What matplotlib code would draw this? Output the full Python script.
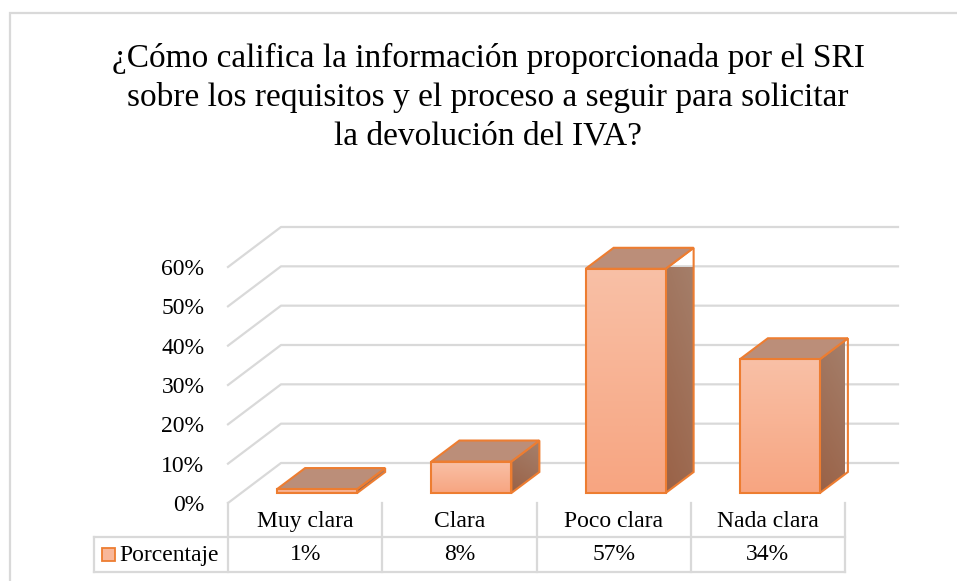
import matplotlib.pyplot as plt
import numpy as np
from matplotlib.patches import Polygon, Rectangle
from matplotlib.transforms import blended_transform_factory
from matplotlib.ticker import PercentFormatter
from matplotlib.colors import LinearSegmentedColormap

# data
categorias = ['Muy clara', 'Clara', 'Poco clara', 'Nada clara']
porcentaje = [0.01, 0.08, 0.57, 0.34]
etiquetas = ['1%', '8%', '57%', '34%']
serie = 'Porcentaje'
yticks = [0, 0.1, 0.2, 0.3, 0.4, 0.5, 0.6]
titulo = ('¿Cómo califica la información proporcionada por el SRI\n'
          'sobre los requisitos y el proceso a seguir para solicitar\n'
          'la devolución del IVA?')

W, H = 957, 581
plt.rcParams['font.family'] = ['Liberation Serif', 'DejaVu Serif']

fig = plt.figure(figsize=(W / 100, H / 100), dpi=100)

# front plane of the plot in pixels
x_left, x_right = 228, 845
y_zero, y_top = 503, 267
ax = fig.add_axes([x_left / W, 1 - y_zero / H,
                   (x_right - x_left) / W, (y_zero - y_top) / H])
n = len(categorias)
ax.set_xlim(-0.5, n - 0.5)
ax.set_ylim(0, 0.6)
for s in ax.spines.values():
    s.set_visible(False)

# pixel -> data scale for the fake depth
sx = (x_right - x_left) / n
sy = (y_zero - y_top) / 0.6


def off(dx, dy):
    return dx / sx, dy / sy


wall = off(53, 40)       # back wall depth
bfront = off(12, 10)     # bar front face depth
bback = off(40, 31)      # bar back face depth

grid_col = '#D9D9D9'
edge = '#ED7D31'

# gridlines: diagonal on the left side wall plus line on the back wall
for v in yticks:
    xs = [-0.5, -0.5 + wall[0], n - 0.5 + wall[0]]
    ys = [v, v + wall[1], v + wall[1]]
    ax.plot(xs, ys, color=grid_col, lw=1.6, clip_on=False, zorder=1)

front_cmap = LinearSegmentedColormap.from_list('f', ['#F7A581', '#F9C0A6'])
side_cmap = LinearSegmentedColormap.from_list('s', ['#9A6247', '#A5806C'])
top_col = '#BB8E79'

bw = 80 / sx
for i, v in enumerate(porcentaje):
    x0 = i - bw / 2 + bfront[0]
    x1 = i + bw / 2 + bfront[0]
    y0 = bfront[1]
    y1 = v + bfront[1]
    dx = bback[0] - bfront[0]
    dy = bback[1] - bfront[1]

    # right side face
    side = Polygon([(x1, y0), (x1, y1), (x1 + dx, y1 + dy), (x1 + dx, y0 + dy)],
                   closed=True, facecolor='none', edgecolor=edge, lw=1.5,
                   zorder=3, clip_on=False)
    grad = np.linspace(0, 1, 64).reshape(-1, 1) * np.ones((1, 8))
    grad = grad + np.linspace(0, 0.3, 8).reshape(1, -1)
    im = ax.imshow(grad, extent=(x1, x1 + dx, y0, y1 + dy), origin='lower',
                   cmap=side_cmap, aspect='auto', interpolation='bilinear',
                   zorder=2, vmin=0, vmax=1.3)
    ax.add_patch(side)
    im.set_clip_path(side)

    # top face
    top = Polygon([(x0, y1), (x1, y1), (x1 + dx, y1 + dy), (x0 + dx, y1 + dy)],
                  closed=True, facecolor=top_col, edgecolor=edge, lw=1.5,
                  zorder=3, clip_on=False)
    ax.add_patch(top)

    # front face
    ax.imshow(np.linspace(0, 1, 64).reshape(-1, 1), extent=(x0, x1, y0, y1),
              origin='lower', cmap=front_cmap, aspect='auto',
              interpolation='bilinear', zorder=4)
    ax.add_patch(Rectangle((x0, y0), x1 - x0, y1 - y0, facecolor='none',
                           edgecolor=edge, lw=1.5, zorder=5, clip_on=False))

ax.set_xlim(-0.5, n - 0.5)
ax.set_ylim(0, 0.6)

# value axis
ax.set_yticks(yticks)
ax.yaxis.set_major_formatter(PercentFormatter(1.0, decimals=0))
ax.tick_params(axis='y', length=0, pad=17, labelsize=17, colors='#000000')
# categories
ax.set_xticks(range(n))
ax.set_xticklabels(categorias)
ax.tick_params(axis='x', length=0, pad=6, labelsize=17)

# data table
bt = blended_transform_factory(ax.transData, fig.transFigure)
fy = lambda p: 1 - p / H
for k in range(n + 1):
    ax.plot([k - 0.5, k - 0.5], [fy(503), fy(572)], color=grid_col, lw=1.6,
            transform=bt, clip_on=False)
ft = fig.transFigure
for yy in (537, 572):
    fig.add_artist(plt.Line2D([94 / W, x_right / W], [fy(yy), fy(yy)],
                              color=grid_col, lw=1.6, transform=ft))
fig.add_artist(plt.Line2D([94 / W, 94 / W], [fy(537), fy(572)],
                          color=grid_col, lw=1.6, transform=ft))
for i, t in enumerate(etiquetas):
    ax.text(i, fy(555), t, transform=bt, ha='center', va='center', fontsize=17)
fig.add_artist(Rectangle((102 / W, fy(561)), 13 / W, 13 / H,
                         facecolor='#F8B79A', edgecolor=edge, lw=1.3,
                         transform=ft))
fig.text(119 / W, fy(555), serie, ha='left', va='center', fontsize=17)

# title
fig.text(488 / W, fy(97), titulo, ha='center', va='center', fontsize=24,
         linespacing=1.33)

# chart border
fig.add_artist(Rectangle((10 / W, -0.1), 1.1, fy(13) + 0.1, facecolor='none',
                         edgecolor=grid_col, lw=1.6, transform=ft))

fig.savefig('out.png', dpi=100)
